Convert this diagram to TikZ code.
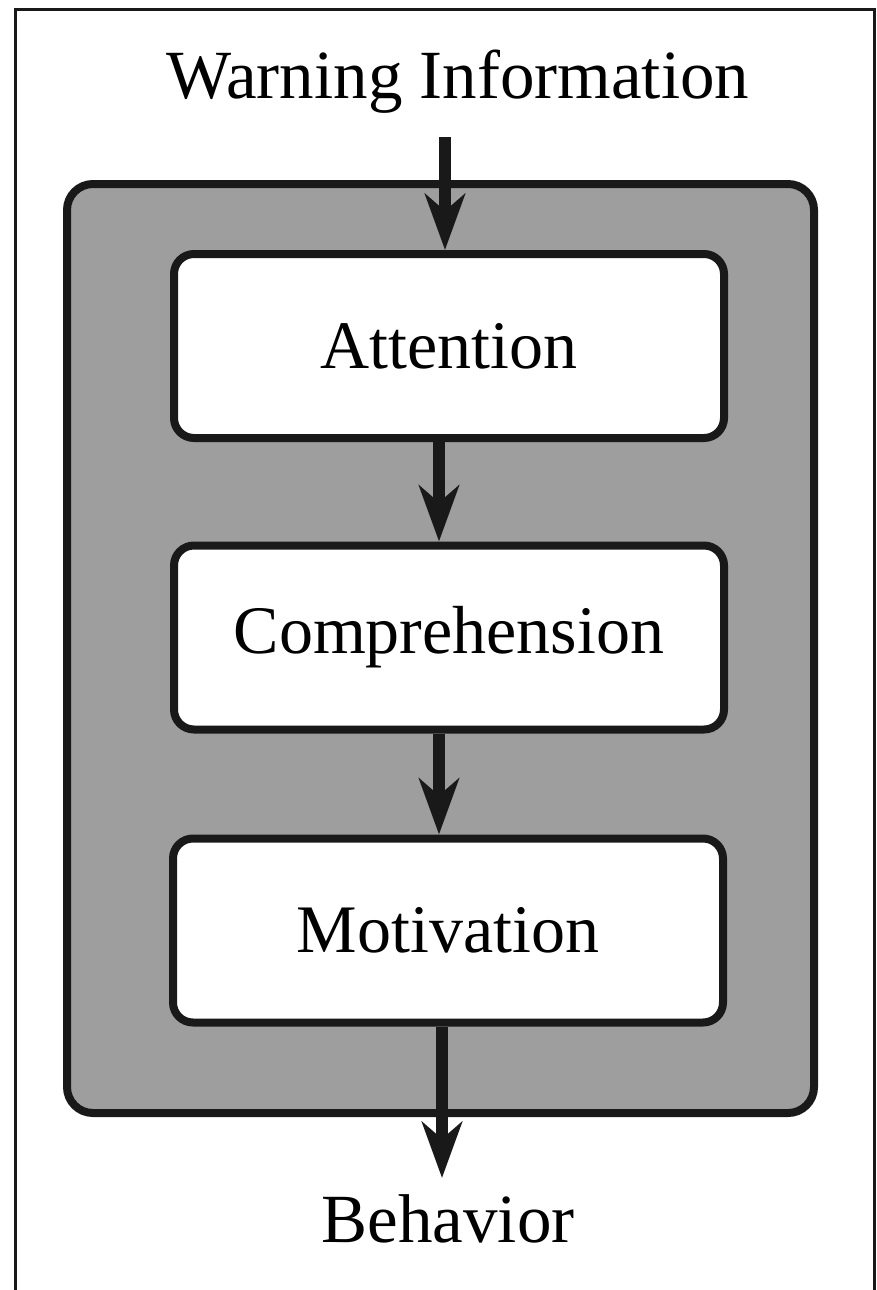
\documentclass[tikz,border=0pt]{standalone}
\usepackage{fontspec}
\setmainfont{Liberation Serif}
\usetikzlibrary{arrows.meta}
\pgfdeclarelayer{panellayer}
\pgfdeclarelayer{flowlayer}
\pgfsetlayers{panellayer,flowlayer,main}
\definecolor{panelgray}{gray}{0.62}
\definecolor{ink}{gray}{0.1}
\tikzset{
  frameline/.style={line width=3pt, draw=ink},
  panel/.style={draw=ink, line width=8pt, fill=panelgray, rounded corners=26pt, inner sep=0pt},
  stagebox/.style={draw=ink, line width=8pt, fill=white, rounded corners=20pt,
    minimum width=550pt, minimum height=184pt, inner sep=0pt,
    font=\fontsize{68pt}{80pt}\selectfont},
  label/.style={inner sep=0pt, font=\fontsize{69pt}{80pt}\selectfont, anchor=base},
  flow/.style={draw=ink, line width=12pt,
    -{Stealth[length=56pt, width=40pt, inset=17pt]}},
}
\begin{document}
\begin{tikzpicture}[x=1pt, y=-1pt]
  \useasboundingbox (0,0) rectangle (877,1290);
  % stage boxes
  \node[stagebox] (att)  at (449,346) {Attention};
  \node[stagebox] (comp) at (449,637.5) {Comprehension};
  \node[stagebox] (mot)  at (448,930.5) {Motivation};
  % title and bottom label
  \node[label] (warn) at (458,99) {Warning Information};
  \node[label] (beh) at (448,1242) {Behavior};
  % background, outer frame and shaded panel
  \begin{pgfonlayer}{panellayer}
    \fill[white] (0,0) rectangle (877,1290);
    \draw[frameline] (15,1290) -- (15,10) -- (874,10) -- (874,1290);
    \node[panel, minimum width=747pt, minimum height=929pt] (panel) at (440.5,648.5) {};
  \end{pgfonlayer}
  % free ends
  \coordinate (wstart) at (445,137);
  \coordinate (btip) at (442,1178);
  % arrows, under the boxes
  \begin{pgfonlayer}{flowlayer}
    \draw[flow] (wstart) -- (wstart |- att.north);
    \draw[flow] (att.south -| 439,0) -- (comp.north -| 439,0);
    \draw[flow] (comp.south -| 439,0) -- (mot.north -| 439,0);
    \draw[flow] (mot.south -| btip) -- (btip);
  \end{pgfonlayer}
\end{tikzpicture}
\end{document}
